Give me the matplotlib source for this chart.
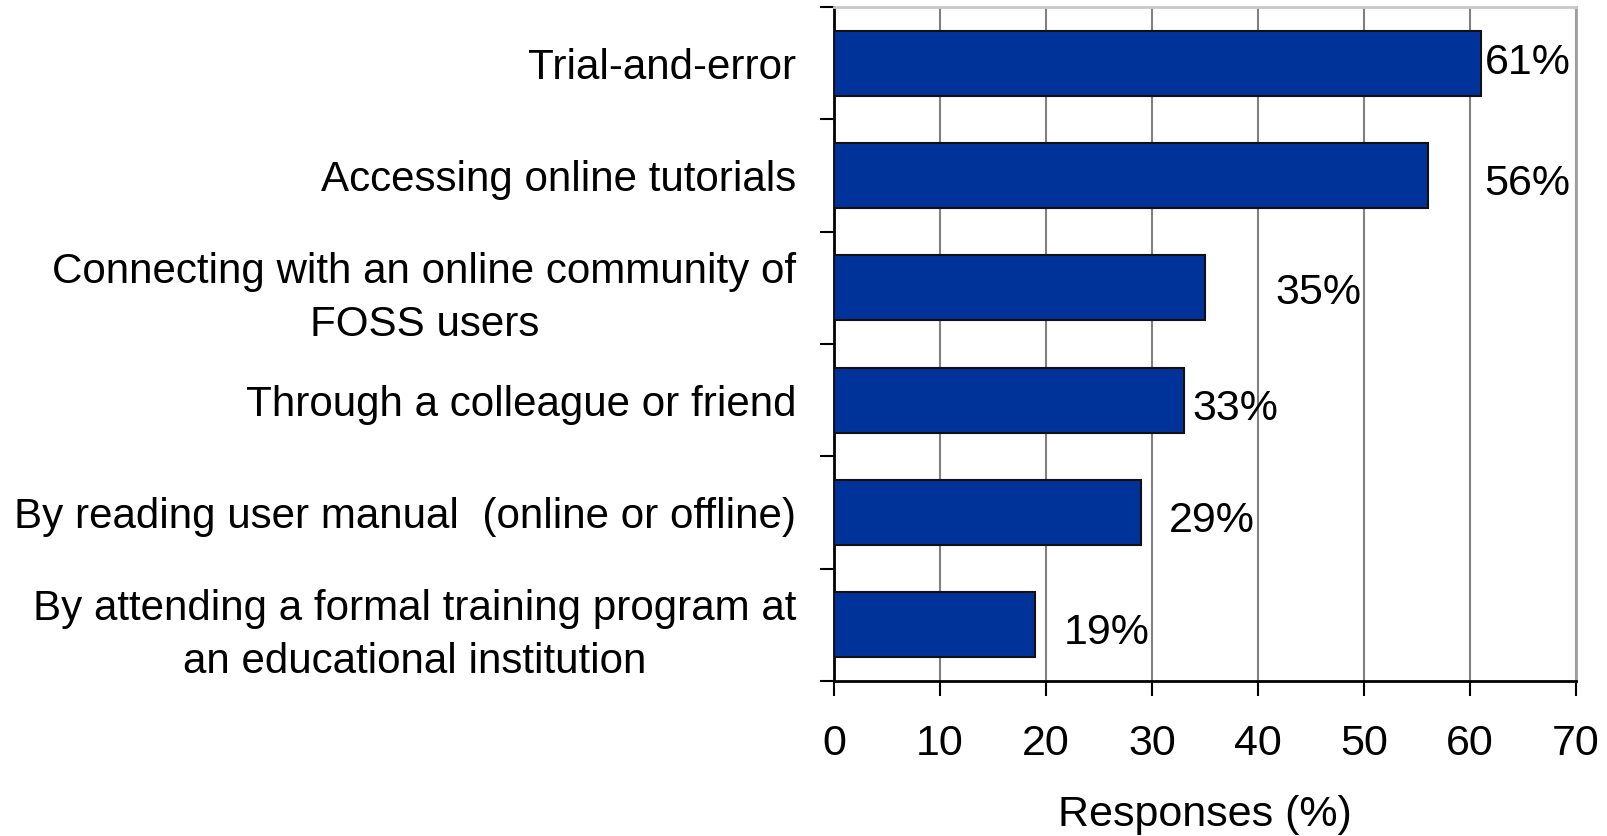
import matplotlib
matplotlib.use("Agg")
import matplotlib.pyplot as plt
import numpy as np

categories = [
    "Trial-and-error",
    "Accessing online tutorials",
    "Connecting with an online community of\nFOSS users",
    "Through a colleague or friend",
    "By reading user manual  (online or offline)",
    "By attending a formal training program at\nan educational institution",
]
values = [61, 56, 35, 33, 29, 19]
value_labels = ["61%", "56%", "35%", "33%", "29%", "19%"]
x_ticks = [0, 10, 20, 30, 40, 50, 60, 70]
x_label = "Responses (%)"

plt.rcParams['font.family'] = ['Liberation Sans', 'DejaVu Sans']

fig = plt.figure(figsize=(16.08, 8.36), dpi=100)
ax = fig.add_axes([834/1608, 1 - 681/836, (1576-834)/1608, (681-7)/836])

y = np.arange(len(categories))
ax.barh(y, values, height=0.58, color="#003399", edgecolor="#111111", linewidth=1.5, zorder=3)

# value label positions (data x of left edge)
label_x = [61.4, 61.3, 41.6, 33.8, 31.6, 21.7]
label_dy = [0.0, 0.08, 0.05, 0.08, 0.08, 0.07]
for i, (lx, txt) in enumerate(zip(label_x, value_labels)):
    ax.text(lx, y[i] + label_dy[i], txt, ha="left", va="center", fontsize=31, color="black", zorder=4)

ax.set_xlim(0, 70)
ax.set_ylim(len(categories) - 0.5, -0.5)
ax.set_xticks(x_ticks)
ax.set_xticklabels([str(t) for t in x_ticks], fontsize=31)
ax.set_yticks(y)
ax.set_yticklabels(categories, fontsize=30.3)
for lbl in ax.get_yticklabels():
    lbl.set_multialignment("center")
    lbl.set_linespacing(1.42)
ax.set_yticks(np.arange(len(categories) + 1) - 0.5, minor=True)
ax.tick_params(axis="y", which="major", length=0, pad=27)
ax.tick_params(axis="y", which="minor", length=10, width=1.5, color="black")
ax.tick_params(axis="x", which="major", length=11, width=1.5, pad=20, color="black")

ax.xaxis.grid(True, color="#808080", linewidth=1.5, zorder=0)
ax.set_axisbelow(True)

ax.spines["left"].set_color("black")
ax.spines["left"].set_linewidth(2)
ax.spines["bottom"].set_color("black")
ax.spines["bottom"].set_linewidth(2)
ax.spines["top"].set_color("#c8c8c8")
ax.spines["top"].set_linewidth(2)
ax.spines["right"].set_color("#a0a0a0")
ax.spines["right"].set_linewidth(2)

ax.set_xlabel(x_label, fontsize=31, labelpad=22)

fig.savefig("out.png", dpi=100)
